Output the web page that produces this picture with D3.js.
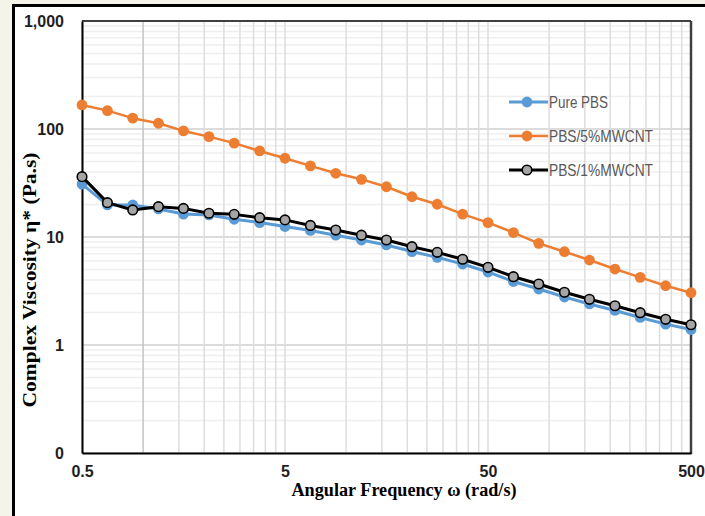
<!DOCTYPE html>
<html>
<head>
<meta charset="utf-8">
<script src="https://cdn.jsdelivr.net/npm/d3@7/dist/d3.min.js"></script>
<style>
  html, body { margin: 0; padding: 0; background: #f5f4e9; }
  svg { display: block; }
</style>
</head>
<body>
<svg id="chart" width="705" height="516"></svg>
<script>
// angular frequency (rad/s)
var freq = [0.5, 0.667, 0.889, 1.19, 1.58, 2.11, 2.81, 3.75, 5, 6.67, 8.89, 11.9, 15.8,
            21.1, 28.1, 37.5, 50, 66.7, 88.9, 119, 158, 211, 281, 375, 500];

// complex viscosity (Pa.s)
var purePBS = [30.9, 19.8, 19.8, 18.2, 16.3, 16.0, 14.6, 13.6, 12.5, 11.5, 10.4, 9.38, 8.44,
               7.33, 6.48, 5.62, 4.74, 3.87, 3.30, 2.78, 2.40, 2.09, 1.80, 1.56, 1.39];
var pbs5 = [167, 148, 126, 113, 96, 85, 74, 62.6, 53.6, 45.6, 38.9, 34.2, 29.2,
            23.6, 20.1, 16.3, 13.6, 11.0, 8.74, 7.31, 6.12, 5.05, 4.23, 3.54, 3.05];
var pbs1 = [36.2, 20.8, 17.8, 19.1, 18.4, 16.6, 16.2, 15.1, 14.4, 12.8, 11.6, 10.4, 9.38,
            8.13, 7.21, 6.22, 5.24, 4.29, 3.67, 3.08, 2.65, 2.31, 1.99, 1.73, 1.54];

var seriesNames = ["Pure PBS", "PBS/5%MWCNT", "PBS/1%MWCNT"];

var xTickValues = [0.5, 5, 50, 500];
var xTickLabels = ["0.5", "5", "50", "500"];
var yTickValues = [0.1, 1, 10, 100, 1000];
var yTickLabels = ["0", "1", "10", "100", "1,000"];

var svg = d3.select("#chart");

// outer frame
svg.append("rect")
    .attr("x", 13.5).attr("y", 5.5)
    .attr("width", 720).attr("height", 540)
    .attr("fill", "#ffffff")
    .attr("stroke", "#000").attr("stroke-width", 3);

var pLeft = 82, pTop = 21, pRight = 691, pBottom = 453;

var x = d3.scaleLog().domain([0.5, 500]).range([pLeft, pRight]);
var y = d3.scaleLog().domain([0.1, 1000]).range([pBottom, pTop]);

// gridlines
var xGrid = [];
[0.5, 5, 50].forEach(function(m) {
  for (var k = 1; k <= 9; k++) xGrid.push(m * k);
});
xGrid.push(500);

var gGrid = svg.append("g");
gGrid.selectAll(".hgrid")
    .data(y.ticks())
    .enter().append("line")
      .attr("x1", pLeft).attr("x2", pRight)
      .attr("y1", function(d) { return y(d); })
      .attr("y2", function(d) { return y(d); })
      .attr("stroke", function(d) {
        return yTickValues.some(function(t) { return Math.abs(t - d) / t < 1e-6; }) ? "#d0d0d0" : "#efefef";
      })
      .attr("stroke-width", 1.5);

gGrid.selectAll(".vgrid")
    .data(xGrid)
    .enter().append("line")
      .attr("y1", pTop).attr("y2", pBottom)
      .attr("x1", function(d) { return x(d); })
      .attr("x2", function(d) { return x(d); })
      .attr("stroke", function(d) { return Math.abs(d - 1) < 1e-9 ? "#c4c4c4" : "#dddddd"; })
      .attr("stroke-width", 1.5);

// plot border
svg.append("line").attr("x1", pLeft).attr("x2", pRight).attr("y1", pTop).attr("y2", pTop)
    .attr("stroke", "#404040").attr("stroke-width", 2);
svg.append("line").attr("x1", pRight).attr("x2", pRight).attr("y1", pTop).attr("y2", pBottom + 1)
    .attr("stroke", "#404040").attr("stroke-width", 2.5);

// axes
var yAxis = svg.append("g")
    .attr("transform", "translate(" + pLeft + ",0)")
    .call(d3.axisLeft(y)
      .tickValues(yTickValues)
      .tickFormat(function(d, i) { return yTickLabels[i]; })
      .tickSize(0).tickPadding(18));
yAxis.select(".domain").attr("stroke", "#000").attr("stroke-width", 2);
yAxis.selectAll("text")
    .attr("font-family", "Liberation Sans, Arial, sans-serif")
    .attr("font-weight", "bold").attr("font-size", 16).attr("fill", "#1e1e1e");

var xAxis = svg.append("g")
    .attr("transform", "translate(0," + pBottom + ")")
    .call(d3.axisBottom(x)
      .tickValues(xTickValues)
      .tickFormat(function(d, i) { return xTickLabels[i]; })
      .tickSize(0).tickPadding(13));
xAxis.select(".domain").attr("stroke", "#000").attr("stroke-width", 2);
xAxis.selectAll("text")
    .attr("font-family", "Liberation Sans, Arial, sans-serif")
    .attr("font-weight", "bold").attr("font-size", 16).attr("fill", "#1e1e1e");

// axis titles
svg.append("text")
    .attr("x", 404).attr("y", 496)
    .attr("text-anchor", "middle")
    .attr("font-family", "Liberation Serif, Times New Roman, serif")
    .attr("font-weight", "bold").attr("font-size", 18)
    .attr("textLength", 225).attr("lengthAdjust", "spacingAndGlyphs")
    .text("Angular Frequency ω (rad/s)");

svg.append("text")
    .attr("transform", "translate(36,280) rotate(-90)")
    .attr("text-anchor", "middle")
    .attr("font-family", "Liberation Serif, Times New Roman, serif")
    .attr("font-weight", "bold").attr("font-size", 18)
    .attr("textLength", 255).attr("lengthAdjust", "spacingAndGlyphs")
    .text("Complex Viscosity η* (Pa.s)");

// series
var series = [
  {name: seriesNames[0], values: purePBS, line: "#5b9bd5", fill: "#5b9bd5", stroke: "none", lw: 3},
  {name: seriesNames[1], values: pbs5, line: "#ed7d31", fill: "#ed7d31", stroke: "none", lw: 2.5},
  {name: seriesNames[2], values: pbs1, line: "#000000", fill: "#a5a5a5", stroke: "#000", lw: 3}
];

var line = d3.line()
    .x(function(d) { return x(d.f); })
    .y(function(d) { return y(d.v); });

series.forEach(function(s) {
  var pts = freq.map(function(f, i) { return {f: f, v: s.values[i]}; });
  var g = svg.append("g");
  g.append("path")
      .datum(pts)
      .attr("d", line)
      .attr("fill", "none")
      .attr("stroke", s.line)
      .attr("stroke-width", s.lw)
      .attr("stroke-linejoin", "round");
  g.selectAll("circle")
      .data(pts)
      .enter().append("circle")
        .attr("cx", function(d) { return x(d.f); })
        .attr("cy", function(d) { return y(d.v); })
        .attr("r", s.stroke === "none" ? 5.4 : 4.8)
        .attr("fill", s.fill)
        .attr("stroke", s.stroke)
        .attr("stroke-width", 1.6);
});

// legend
var legend = svg.append("g")
    .selectAll("g")
    .data(series)
    .enter().append("g")
      .attr("transform", function(d, i) { return "translate(0," + (102 + i * 34) + ")"; });

legend.append("line")
    .attr("x1", 509).attr("x2", 548)
    .attr("stroke", function(d) { return d.line; })
    .attr("stroke-width", function(d) { return d.lw; });
legend.append("circle")
    .attr("cx", 527).attr("r", function(d) { return d.stroke === "none" ? 5.4 : 4.8; })
    .attr("fill", function(d) { return d.fill; })
    .attr("stroke", function(d) { return d.stroke; })
    .attr("stroke-width", 1.6);
legend.append("text")
    .attr("x", 549).attr("dy", "0.35em")
    .attr("font-family", "Liberation Sans, Arial, sans-serif")
    .attr("font-size", 17).attr("fill", "#595959")
    .attr("textLength", function(d, i) { return i === 0 ? 59 : 104; })
    .attr("lengthAdjust", "spacingAndGlyphs")
    .text(function(d) { return d.name; });
</script>
</body>
</html>
